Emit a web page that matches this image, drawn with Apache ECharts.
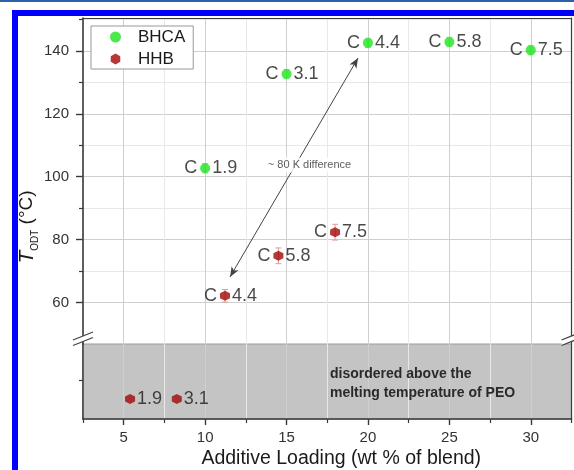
<!DOCTYPE html>
<html><head><meta charset="utf-8">
<script src="https://cdn.jsdelivr.net/npm/echarts@6/dist/echarts.min.js"></script>
<style>
html,body{margin:0;padding:0;background:#fff;width:574px;height:470px;overflow:hidden;}
#topline{position:absolute;left:0;top:0;width:574px;height:2px;background:#2f5fa6;}
#frame{position:absolute;left:12px;top:10px;width:600px;height:500px;border-left:6px solid #0000ff;border-top:6px solid #0000ff;}
#chart{position:absolute;left:0;top:0;width:574px;height:470px;}
</style></head><body>
<div id="topline"></div><div id="frame"></div><div id="chart"></div>
<script>
// ---- data ----
const xMajorTicks = [5, 10, 15, 20, 25, 30];
const xMinorTicks = [2.5, 7.5, 12.5, 17.5, 22.5, 27.5, 32.5];
const yMajorTicks = [60, 80, 100, 120, 140];
const yMinorTicks = [70, 90, 110, 130, 150];
const lowerTicks = [39];

const bhcaX = [10, 15, 20, 25, 30];
const bhcaY = [102.7, 132.6, 142.5, 142.8, 140.2];
const bhcaLabels = ['1.9', '3.1', '4.4', '5.8', '7.5'];
const bhcaErr = [1.5, 1.5, 1.5, 1.5, 1.5];

const hhbX = [11.22, 14.5, 17.98];
const hhbY = [62.2, 74.9, 82.4];
const hhbLabels = ['4.4', '5.8', '7.5'];
const hhbErr = [2, 2.5, 2.5];

const hhbDisX = [5.39, 8.26];
const hhbDisLevel = [20, 20];
const hhbDisLabels = ['1.9', '3.1'];

const arrowFrom = [11.53, 68.2];
const arrowTo = [19.39, 137.7];
const diffNotePos = [16.41, 103.7];
const diffNote = '~ 80 K difference';
const regionNote = 'disordered above the\nmelting temperature of PEO';

// ---- layout ----
const FONT = 'Liberation Sans, Arial, sans-serif';
const L = 83, R = 2.5, T0 = 18, H0 = 326, T1 = 344, H1 = 75.3;
const X_MIN = 2.5, X_MAX = 32.5, Y_MIN = 46.9, Y_MAX = 150.4;
const GREEN = '#1ee41e', RED = '#a30808';
const HEX = 'path://M0,-1L0.866,-0.5L0.866,0.5L0,1L-0.866,0.5L-0.866,-0.5Z';
const AXC = '#3a3a3a';
const TXT = '#1a1a1a';

function xAx(grid, opts) {
  return Object.assign({type:'value', gridIndex:grid, min:X_MIN, max:X_MAX, position:'bottom',
    axisLine:{show:false, onZero:false}, axisTick:{show:false}, axisLabel:{show:false}, splitLine:{show:false}}, opts);
}
function yAx(grid, min, max, opts) {
  return Object.assign({type:'value', gridIndex:grid, min:min, max:max, position:'left',
    axisLine:{show:false, onZero:false}, axisTick:{show:false}, axisLabel:{show:false}, splitLine:{show:false}}, opts);
}
const majorSplit = {show:true, lineStyle:{color:'#cfcfcf', width:1}};
const minorSplit = {show:true, lineStyle:{color:'#e8e8e8', width:1}};

function errSeries(xs, ys, errs, color, xi, yi) {
  return {type:'custom', xAxisIndex:xi, yAxisIndex:yi, silent:true, z:1,
    encode:{x:0, y:[1,2]},
    data: xs.map((x,i)=>[x, ys[i]-errs[i], ys[i]+errs[i]]),
    renderItem:(params, api)=>{
      const lo = api.coord([api.value(0), api.value(1)]);
      const hi = api.coord([api.value(0), api.value(2)]);
      const w = 3, st = {stroke:color, lineWidth:1};
      return {type:'group', children:[
        {type:'line', shape:{x1:lo[0],y1:lo[1],x2:hi[0],y2:hi[1]}, style:st},
        {type:'line', shape:{x1:lo[0]-w,y1:lo[1],x2:lo[0]+w,y2:lo[1]}, style:st},
        {type:'line', shape:{x1:hi[0]-w,y1:hi[1],x2:hi[0]+w,y2:hi[1]}, style:st}
      ]};
    }};
}
const lblStyle = {color:TXT, fontSize:18, fontFamily:FONT};
function pts(xs, ys) { return xs.map((x,i)=>[x, ys[i]]); }
function cSeries(xs, ys, xi, yi) {
  return {type:'scatter', xAxisIndex:xi, yAxisIndex:yi, symbolSize:10, silent:true, z:3,
    itemStyle:{color:'transparent'}, data:pts(xs, ys),
    label:Object.assign({show:true, position:'left', distance:3, formatter:'C'}, lblStyle)};
}

const chart = echarts.init(document.getElementById('chart'));
const option = {
  animation:false,
  textStyle:{fontFamily:FONT},
  grid:[
    {left:L, right:R, top:T0, height:H0},
    {left:L, right:R, top:T1, height:H1, show:true, backgroundColor:'#c4c4c4', borderColor:'#9a9a9a', borderWidth:1}
  ],
  legend:{left:91, top:26, orient:'vertical', itemWidth:35, itemHeight:11, itemGap:4,
    padding:[2,8,1,19], backgroundColor:'#fff', borderColor:'#999', borderWidth:1, borderRadius:0,
    textStyle:{fontSize:17, lineHeight:18, color:TXT, fontFamily:FONT},
    data:[{name:'BHCA', icon:'circle'}, {name:'HHB', icon:HEX}]},
  xAxis:[
    xAx(0, {axisTick:{show:false, customValues:xMajorTicks}, splitLine:majorSplit}),
    xAx(0, {axisTick:{show:false, customValues:xMinorTicks}, splitLine:minorSplit}),
    xAx(0, {position:'top', axisLine:{show:true, onZero:false, lineStyle:{color:AXC, width:1.2}}}),
    xAx(1, {axisLine:{show:true, onZero:false, lineStyle:{color:AXC, width:1.6}},
      axisTick:{show:true, length:6, customValues:xMajorTicks, lineStyle:{color:AXC, width:1.4}},
      axisLabel:{show:true, customValues:xMajorTicks, fontSize:15, color:'#333', margin:11, fontFamily:FONT},
      splitLine:majorSplit,
      name:'Additive Loading (wt % of blend)', nameLocation:'middle', nameGap:30, nameMoveOverlap:false,
      nameTextStyle:{fontSize:19.5, color:TXT, fontFamily:FONT, padding:[0,0,0,28]}}),
    xAx(1, {axisTick:{show:true, length:4, customValues:xMinorTicks, lineStyle:{color:AXC, width:1.2}}, splitLine:minorSplit})
  ],
  yAxis:[
    yAx(0, Y_MIN, Y_MAX, {axisLine:{show:true, onZero:false, lineStyle:{color:AXC, width:1.6}},
      axisTick:{show:true, length:7, customValues:yMajorTicks, lineStyle:{color:AXC, width:1.4}},
      axisLabel:{show:true, customValues:yMajorTicks, fontSize:15, color:'#333', margin:14, fontFamily:FONT},
      splitLine:majorSplit,
      name:'{t|T}{s|ODT}{u| (°C)}', nameLocation:'middle', nameRotate:90, nameGap:43, nameMoveOverlap:false,
      nameTextStyle:{color:TXT, fontFamily:FONT, padding:[0,92,0,0],
        rich:{t:{fontSize:21, fontStyle:'italic', lineHeight:26, fontFamily:FONT, color:TXT},
              s:{fontSize:10, lineHeight:15, verticalAlign:'bottom', fontFamily:FONT, color:TXT},
              u:{fontSize:19, lineHeight:26, fontFamily:FONT, color:TXT}}}}),
    yAx(0, Y_MIN, Y_MAX, {axisTick:{show:true, length:4, customValues:yMinorTicks, lineStyle:{color:AXC, width:1.2}}, splitLine:minorSplit}),
    yAx(0, Y_MIN, Y_MAX, {position:'right', axisLine:{show:true, onZero:false, lineStyle:{color:AXC, width:1.2}}}),
    yAx(1, 0, 75, {axisLine:{show:true, onZero:false, lineStyle:{color:AXC, width:1.6}},
      axisTick:{show:true, length:4, customValues:lowerTicks, lineStyle:{color:AXC, width:1.2}}}),
    yAx(1, 0, 75, {position:'right', axisLine:{show:true, onZero:false, lineStyle:{color:AXC, width:1.2}}})
  ],
  series:[
    errSeries(bhcaX, bhcaY, bhcaErr, '#8fe88f', 0, 0),
    errSeries(hhbX, hhbY, hhbErr, '#e09a9a', 0, 0),
    cSeries(bhcaX, bhcaY, 0, 0),
    cSeries(hhbX, hhbY, 0, 0),
    {name:'BHCA', type:'scatter', xAxisIndex:0, yAxisIndex:0, symbol:'circle', symbolSize:10, z:4,
      itemStyle:{color:GREEN}, data:pts(bhcaX, bhcaY),
      label:Object.assign({show:true, position:'right', distance:2, formatter:p=>bhcaLabels[p.dataIndex]}, lblStyle)},
    {name:'HHB', type:'scatter', xAxisIndex:0, yAxisIndex:0, symbol:HEX, symbolSize:10, z:4,
      itemStyle:{color:RED}, data:pts(hhbX, hhbY),
      label:Object.assign({show:true, position:'right', distance:2, formatter:p=>hhbLabels[p.dataIndex]}, lblStyle),
      markLine:{silent:true, symbol:['arrow','arrow'], symbolSize:[6,10], label:{show:false},
        lineStyle:{color:'#444', width:1, type:'solid'},
        data:[[{coord:arrowFrom}, {coord:arrowTo}]]}},
    {name:'HHB', type:'scatter', xAxisIndex:3, yAxisIndex:3, symbol:HEX, symbolSize:10, z:4,
      itemStyle:{color:RED}, data:pts(hhbDisX, hhbDisLevel),
      label:Object.assign({show:true, position:'right', distance:2, formatter:p=>hhbDisLabels[p.dataIndex]}, lblStyle)},
    {type:'scatter', xAxisIndex:0, yAxisIndex:0, symbolSize:1, silent:true, z:5,
      itemStyle:{color:'transparent'}, data:[diffNotePos],
      label:{show:true, position:'inside', formatter:diffNote, fontSize:11, color:'#333', fontFamily:FONT,
        backgroundColor:'#fff', padding:[2,2]}}
  ],
  graphic:[
    {type:'text', left:330, top:364.5, z:10, silent:true,
      style:{text:regionNote, font:'bold 14px ' + FONT, fill:'#2a2a2a', lineHeight:19}}
  ]
};
chart.setOption(option);

// axis-break marks
function breakMark(cx) {
  const y = T1;
  return [
    {type:'polygon', z:20, silent:true, shape:{points:[[cx-10,y-4],[cx+10,y-12],[cx+10,y-6.5],[cx-10,y+1.5]]}, style:{fill:'#fff'}},
    {type:'line', z:21, silent:true, shape:{x1:cx-10,y1:y-4,x2:cx+10,y2:y-12}, style:{stroke:'#444', lineWidth:1.3}},
    {type:'line', z:21, silent:true, shape:{x1:cx-10,y1:y+1.5,x2:cx+10,y2:y-6.5}, style:{stroke:'#444', lineWidth:1.3}}
  ];
}
const rightX = 574 - R;
chart.setOption({graphic: option.graphic.concat(breakMark(L), breakMark(rightX))});
</script>
</body></html>
